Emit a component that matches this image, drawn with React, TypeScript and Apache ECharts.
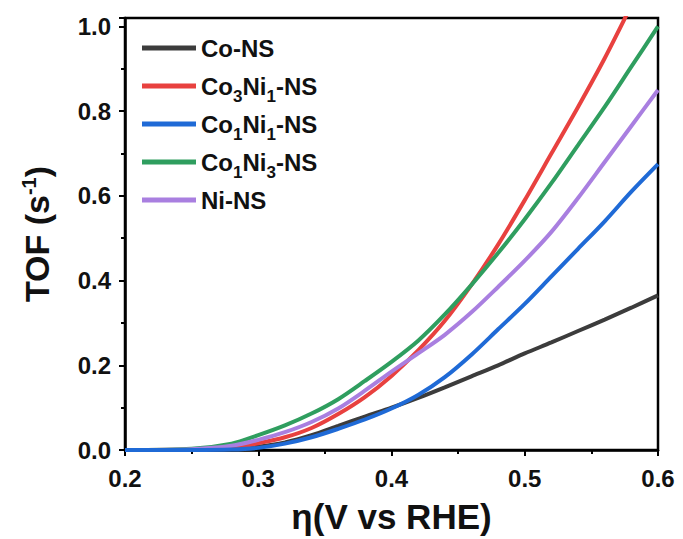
import React, { useEffect, useRef } from "react";
import * as echarts from "echarts";

const eta = [0.2, 0.25, 0.28, 0.3, 0.32, 0.34, 0.36, 0.38, 0.4, 0.42, 0.44, 0.46, 0.48, 0.5, 0.52, 0.54, 0.56, 0.58, 0.6];
const coNS = [0, 0, 0.003, 0.008, 0.018, 0.035, 0.057, 0.079, 0.1, 0.123, 0.148, 0.174, 0.2, 0.228, 0.254, 0.281, 0.308, 0.336, 0.365];
const co3ni1 = [0, 0.001, 0.005, 0.016, 0.03, 0.052, 0.085, 0.125, 0.175, 0.235, 0.305, 0.39, 0.485, 0.59, 0.7, 0.81, 0.925, 1.05, null];
const co1ni1 = [0, 0, 0.001, 0.005, 0.015, 0.03, 0.05, 0.072, 0.098, 0.13, 0.172, 0.225, 0.285, 0.345, 0.41, 0.475, 0.54, 0.61, 0.675];
const co1ni3 = [0, 0.003, 0.015, 0.035, 0.058, 0.086, 0.12, 0.163, 0.208, 0.258, 0.32, 0.39, 0.465, 0.545, 0.63, 0.72, 0.81, 0.905, 1.0];
const niNS = [0, 0.002, 0.01, 0.024, 0.042, 0.066, 0.098, 0.14, 0.185, 0.228, 0.272, 0.325, 0.385, 0.447, 0.515, 0.595, 0.68, 0.765, 0.85];

const seriesNames = ["Co-NS", "Co3Ni1-NS", "Co1Ni1-NS", "Co1Ni3-NS", "Ni-NS"];
const seriesLabels = ["Co-NS", "Co{sub|3}Ni{sub|1}-NS", "Co{sub|1}Ni{sub|1}-NS", "Co{sub|1}Ni{sub|3}-NS", "Ni-NS"];
const seriesData = [coNS, co3ni1, co1ni1, co1ni3, niNS];
const seriesColors = ["#3c3c3c", "#e8413f", "#1f6ad6", "#2f9e5f", "#a97fe0"];
const drawOrder = [0, 1, 3, 4, 2];

const FONT = "Liberation Sans, Arial, sans-serif";

export default function App() {
  const ref = useRef<HTMLDivElement>(null);
  useEffect(() => {
    if (!ref.current) return;
    const chart = echarts.init(ref.current, undefined, { renderer: "svg" });
    const axisCommon = {
      axisLine: { show: true, onZero: false, lineStyle: { color: "#000", width: 2.5 } },
      axisTick: { show: true, inside: false, length: 6, lineStyle: { color: "#000", width: 2 } },
      minorTick: { show: true, splitNumber: 2, length: 4, lineStyle: { color: "#000", width: 2 } },
      splitLine: { show: false },
      axisLabel: { color: "#111", fontSize: 24, fontWeight: "bold", fontFamily: FONT },
    };
    chart.setOption({
      animation: false,
      backgroundColor: "#fff",
      grid: { left: 125, right: 25, top: 18, bottom: 89, show: true, borderColor: "#000", borderWidth: 2.5 },
      legend: {
        orient: "vertical",
        left: 142,
        top: 29,
        padding: 0,
        icon: "rect",
        itemWidth: 54,
        itemHeight: 5,
        itemGap: 0,
        data: seriesNames,
        formatter: (name: string) => seriesLabels[seriesNames.indexOf(name)],
        textStyle: {
          color: "#111",
          fontSize: 24,
          fontWeight: "bold",
          fontFamily: FONT,
          lineHeight: 38,
          rich: {
            sub: { fontSize: 17, fontWeight: "bold", fontFamily: FONT, color: "#111", padding: [20, 0, 0, 0] },
          },
        },
      },
      xAxis: {
        type: "value",
        min: 0.2,
        max: 0.6,
        interval: 0.1,
        ...axisCommon,
        axisLabel: { ...axisCommon.axisLabel, margin: 16, formatter: (v: number) => v.toFixed(1) },
        name: "η(V vs RHE)",
        nameLocation: "middle",
        nameGap: 49,
        nameTextStyle: { color: "#111", fontSize: 35, fontWeight: "bold", fontFamily: FONT },
      },
      yAxis: {
        type: "value",
        min: 0,
        max: 1.02,
        interval: 0.2,
        ...axisCommon,
        axisLabel: {
          ...axisCommon.axisLabel,
          margin: 14,
          showMaxLabel: false,
          formatter: (v: number) => (Math.abs(v * 5 - Math.round(v * 5)) < 1e-6 ? v.toFixed(1) : ""),
        },
        name: "TOF (s{sup|-1})",
        nameLocation: "middle",
        nameGap: 70,
        nameTextStyle: {
          color: "#111",
          fontSize: 34,
          fontWeight: "bold",
          fontFamily: FONT,
          rich: {
            sup: { fontSize: 20, fontWeight: "bold", fontFamily: FONT, color: "#111", padding: [0, 0, 16, 0] },
          },
        },
      },
      series: drawOrder.map((i) => ({
        name: seriesNames[i],
        type: "line",
        showSymbol: false,
        symbol: "none",
        smooth: 0.3,
        clip: true,
        color: seriesColors[i],
        lineStyle: { color: seriesColors[i], width: 4 },
        data: eta.map((x, k) => (seriesData[i][k] === null ? null : [x, seriesData[i][k]])).filter((p) => p !== null),
      })),
    });
    return () => chart.dispose();
  }, []);
  return <div ref={ref} style={{ width: 683, height: 539, position: "absolute", left: 0, top: 0 }} />;
}
